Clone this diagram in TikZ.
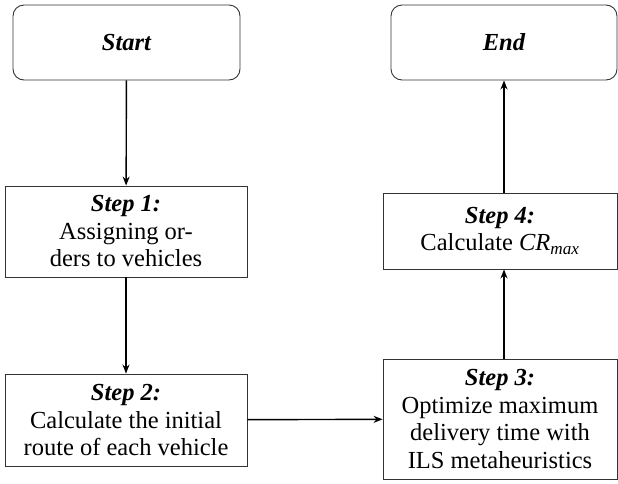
\documentclass[tikz,border=0pt]{standalone}
\usepackage{fontspec}
\setmainfont{Liberation Serif}
\usetikzlibrary{arrows.meta}
\tikzset{
  termbox/.style={draw=black!80,line width=0.9pt,rounded corners=11pt,minimum width=#1,minimum height=75pt,inner sep=0pt},
  stepbox/.style={draw=black!80,line width=0.9pt,align=center,inner sep=0pt,font=\fontsize{24.5}{27.5}\selectfont},
  flow/.style={line width=1.4pt,-{Stealth[length=9pt,width=7pt]}}
}
\begin{document}
\begin{tikzpicture}[x=1pt,y=-1pt]
\useasboundingbox (0,0) rectangle (618,483);

% Terminals
\node[termbox=227pt,font=\fontsize{24.5}{27.5}\selectfont\bfseries\itshape] (start) at (126.5,42.5) {Start};
\node[termbox=226pt,font=\fontsize{24.5}{27.5}\selectfont\bfseries\itshape] (end) at (504,42.5) {End};

% Steps
\node[stepbox,minimum width=242pt,minimum height=91pt] (step1) at (126,231.5)
  {\textbf{\textit{Step 1:}}\\Assigning or-\\ders to vehicles};
\node[stepbox,minimum width=242pt,minimum height=92pt] (step2) at (126,420)
  {\textbf{\textit{Step 2:}}\\Calculate the initial\\route of each vehicle};
\node[stepbox,minimum width=234pt,minimum height=120pt] (step3) at (500,419)
  {\textbf{\textit{Step 3:}}\\Optimize maximum\\delivery time with\\ILS metaheuristics};
\node[stepbox,minimum width=234pt,minimum height=76pt] (step4) at (500,231)
  {\textbf{\textit{Step 4:}}\\Calculate \textit{CR}\textsubscript{\textit{max}}};

% Flow
\draw[flow] (start) -- (step1);
\draw[flow] (step1) -- (step2);
\draw[flow] (step2) -- (step3);
\draw[flow] (step3.north -| end) -- (step4.south -| end);
\draw[flow] (step4.north -| end) -- (end);
\end{tikzpicture}
\end{document}
